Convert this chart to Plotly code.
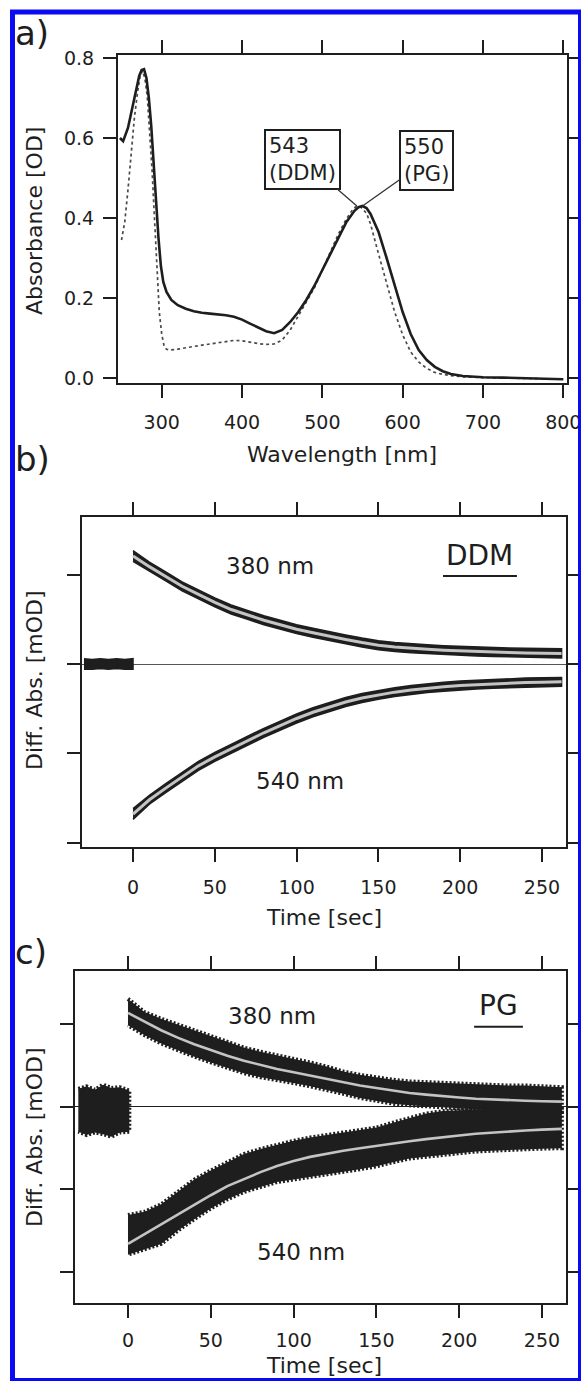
import plotly.graph_objects as go

W, H = 581, 1381
FONT = "DejaVu Sans"
INK = "#1e1e1e"
FIT_GRAY = "#c4c4c4"
FRAME_BLUE = "#0b0bf2"

# ---------------- a) absorption spectra ----------------
wl_pg = [248, 252, 258, 264, 268, 272, 275, 278, 281, 284,
         287, 290, 293, 296, 299, 302, 306, 312, 320, 330,
         340, 350, 360, 370, 380, 390, 400, 410, 420, 430,
         440, 450, 460, 470, 480, 490, 500, 510, 520, 530,
         540, 545, 550, 555, 560, 570, 580, 590, 600, 610,
         620, 630, 640, 650, 660, 675, 700, 725, 750, 775, 800]
abs_pg = [0.600, 0.592, 0.625, 0.680, 0.720, 0.755, 0.770, 0.772, 0.750, 0.700,
          0.630, 0.530, 0.430, 0.350, 0.280, 0.240, 0.215, 0.195, 0.182, 0.173,
          0.167, 0.163, 0.161, 0.159, 0.157, 0.153, 0.146, 0.136, 0.126, 0.117,
          0.112, 0.120, 0.140, 0.165, 0.195, 0.230, 0.270, 0.310, 0.350, 0.390,
          0.418, 0.427, 0.430, 0.425, 0.410, 0.365, 0.300, 0.232, 0.165, 0.110,
          0.070, 0.045, 0.028, 0.017, 0.010, 0.005, 0.002, 0.001, 0.000, -0.002, -0.003]

wl_ddm = [250, 254, 258, 262, 266, 270, 273, 276, 279, 282,
          285, 288, 291, 294, 297, 300, 303, 306, 310, 320,
          330, 340, 350, 360, 370, 380, 390, 400, 410, 420,
          430, 440, 450, 460, 470, 480, 490, 500, 510, 520,
          530, 538, 543, 548, 555, 560, 570, 580, 590, 600,
          610, 620, 630, 640, 650, 660, 675, 700, 725, 750, 775, 800]
abs_ddm = [0.345, 0.390, 0.470, 0.565, 0.650, 0.715, 0.753, 0.768, 0.750, 0.705,
           0.620, 0.520, 0.400, 0.280, 0.165, 0.110, 0.080, 0.072, 0.070, 0.072,
           0.076, 0.079, 0.082, 0.085, 0.088, 0.091, 0.094, 0.093, 0.089, 0.086,
           0.084, 0.085, 0.095, 0.120, 0.155, 0.190, 0.225, 0.270, 0.315, 0.360,
           0.398, 0.422, 0.430, 0.427, 0.412, 0.385, 0.310, 0.237, 0.165, 0.108,
           0.065, 0.040, 0.024, 0.014, 0.009, 0.006, 0.003, 0.001, 0.000, -0.001, -0.002, -0.003]

peak_ddm, peak_ddm_abs = 543, 0.430
peak_pg, peak_pg_abs = 550, 0.430
wl_ticks = [300, 400, 500, 600, 700, 800]
abs_ticks = [0.0, 0.2, 0.4, 0.6, 0.8]

# ---------------- shared time grid for the kinetics ----------------
t_grid = [0, 10, 20, 30, 40, 50, 60, 70, 80, 90, 100, 110, 120, 130,
          140, 150, 160, 170, 180, 190, 200, 210, 220, 230, 240, 250, 262]
time_ticks = [0, 50, 100, 150, 200, 250]
diff_ticks = [-2, -1, 0, 1]

# ---------------- b) DDM kinetics ----------------
b380_fit = [1.21, 1.09, 0.98, 0.87, 0.78, 0.69, 0.61, 0.55, 0.49, 0.44, 0.39, 0.35, 0.31, 0.275,
            0.24, 0.21, 0.19, 0.175, 0.165, 0.155, 0.147, 0.14, 0.134, 0.128, 0.124, 0.121, 0.118]
b380_hi = [1.27, 1.14, 1.03, 0.92, 0.83, 0.74, 0.66, 0.60, 0.54, 0.49, 0.44, 0.40, 0.36, 0.325,
           0.29, 0.26, 0.24, 0.225, 0.215, 0.205, 0.197, 0.19, 0.185, 0.18, 0.176, 0.173, 0.17]
b380_lo = [1.15, 1.04, 0.93, 0.82, 0.73, 0.64, 0.56, 0.50, 0.44, 0.39, 0.34, 0.30, 0.26, 0.225,
           0.19, 0.16, 0.14, 0.125, 0.115, 0.105, 0.097, 0.09, 0.084, 0.078, 0.074, 0.071, 0.068]

b540_fit = [-1.68, -1.52, -1.39, -1.26, -1.14, -1.04, -0.95, -0.86, -0.77, -0.69, -0.61, -0.54, -0.48, -0.425,
            -0.38, -0.345, -0.315, -0.29, -0.27, -0.255, -0.24, -0.23, -0.222, -0.214, -0.208, -0.204, -0.20]
b540_hi = [-1.62, -1.47, -1.34, -1.21, -1.09, -0.99, -0.90, -0.81, -0.72, -0.64, -0.56, -0.49, -0.43, -0.375,
           -0.33, -0.295, -0.265, -0.24, -0.22, -0.205, -0.19, -0.18, -0.172, -0.164, -0.158, -0.154, -0.15]
b540_lo = [-1.74, -1.57, -1.44, -1.31, -1.19, -1.09, -1.00, -0.91, -0.82, -0.74, -0.66, -0.59, -0.53, -0.475,
           -0.43, -0.395, -0.365, -0.34, -0.32, -0.305, -0.29, -0.28, -0.272, -0.264, -0.258, -0.254, -0.25]

pre_b_t = [-30, -25, -20, -15, -10, -5, 0]
pre_b_hi = [0.06, 0.05, 0.06, 0.05, 0.06, 0.05, 0.06]
pre_b_lo = [-0.06, -0.06, -0.05, -0.06, -0.05, -0.06, -0.06]

# ---------------- c) PG kinetics ----------------
c380_fit = [1.14, 1.03, 0.93, 0.84, 0.76, 0.69, 0.62, 0.56, 0.51, 0.46, 0.42, 0.38, 0.34, 0.30,
            0.26, 0.23, 0.20, 0.17, 0.15, 0.13, 0.115, 0.10, 0.09, 0.08, 0.075, 0.07, 0.065]
c380_hi = [1.31, 1.15, 1.07, 1.00, 0.93, 0.86, 0.79, 0.72, 0.67, 0.63, 0.59, 0.54, 0.49, 0.43,
           0.39, 0.355, 0.33, 0.31, 0.30, 0.29, 0.28, 0.27, 0.27, 0.26, 0.26, 0.25, 0.24]
c380_lo = [0.99, 0.87, 0.77, 0.69, 0.61, 0.54, 0.47, 0.41, 0.36, 0.32, 0.29, 0.25, 0.21, 0.16,
           0.11, 0.07, 0.04, 0.02, 0.01, 0.0, -0.02, -0.03, -0.04, -0.04, -0.05, -0.05, -0.06]

c540_fit = [-1.66, -1.54, -1.42, -1.30, -1.18, -1.07, -0.96, -0.87, -0.79, -0.715, -0.655, -0.605, -0.565, -0.53,
            -0.50, -0.47, -0.44, -0.415, -0.39, -0.365, -0.345, -0.325, -0.31, -0.295, -0.285, -0.275, -0.265]
c540_hi = [-1.31, -1.27, -1.18, -1.03, -0.88, -0.77, -0.67, -0.57, -0.51, -0.455, -0.41, -0.37, -0.34, -0.31,
           -0.28, -0.25, -0.19, -0.13, -0.08, -0.05, -0.04, -0.03, -0.02, -0.01, 0.0, 0.0, 0.0]
c540_lo = [-1.79, -1.73, -1.66, -1.50, -1.36, -1.23, -1.12, -1.03, -0.97, -0.91, -0.87, -0.84, -0.81, -0.785,
           -0.755, -0.72, -0.67, -0.625, -0.60, -0.58, -0.56, -0.54, -0.53, -0.52, -0.51, -0.505, -0.50]

pre_c_t = [-30, -25, -20, -15, -10, -5, 0.8]
pre_c_hi = [0.22, 0.25, 0.21, 0.27, 0.23, 0.24, 0.20]
pre_c_lo = [-0.30, -0.34, -0.31, -0.33, -0.36, -0.31, -0.30]


def px(x):
    """Horizontal pixel -> paper fraction (margins are zero)."""
    return x / W


def py(y):
    """Vertical pixel (from top) -> paper fraction."""
    return 1 - y / H


def band(t, hi, lo, xa, ya, edge_width=1.5, edge_dash="solid"):
    """Noisy measured trace drawn as a filled envelope."""
    return go.Scatter(x=list(t) + list(t)[::-1], y=list(hi) + list(lo)[::-1],
                      fill="toself", fillcolor=INK, mode="lines",
                      line=dict(color=INK, width=edge_width, dash=edge_dash),
                      xaxis=xa, yaxis=ya, hoverinfo="skip", showlegend=False)


def fit_line(t, v, xa, ya, width):
    return go.Scatter(x=t, y=v, mode="lines", line=dict(color=FIT_GRAY, width=width),
                      xaxis=xa, yaxis=ya, hoverinfo="skip", showlegend=False)


fig = go.Figure()

# a) spectra
fig.add_trace(go.Scatter(x=wl_ddm, y=abs_ddm, mode="lines", name="DDM",
                         line=dict(color="#4a4a4a", width=1.7, dash="dot"),
                         xaxis="x", yaxis="y", showlegend=False))
fig.add_trace(go.Scatter(x=wl_pg, y=abs_pg, mode="lines", name="PG",
                         line=dict(color=INK, width=2.6),
                         xaxis="x", yaxis="y", showlegend=False))

# b) DDM traces
fig.add_trace(band(pre_b_t, pre_b_hi, pre_b_lo, "x2", "y2"))
fig.add_trace(band(t_grid, b380_hi, b380_lo, "x2", "y2"))
fig.add_trace(band(t_grid, b540_hi, b540_lo, "x2", "y2"))
fig.add_trace(fit_line(t_grid, b380_fit, "x2", "y2", 3))
fig.add_trace(fit_line(t_grid, b540_fit, "x2", "y2", 3))

# c) PG traces: the ragged edge stands in for the shot-to-shot noise
rough = dict(edge_width=4, edge_dash="2px,2px")
fig.add_trace(band(pre_c_t, pre_c_hi, pre_c_lo, "x3", "y3", **rough))
fig.add_trace(band(t_grid, c380_hi, c380_lo, "x3", "y3", **rough))
fig.add_trace(band(t_grid, c540_hi, c540_lo, "x3", "y3", **rough))
fig.add_trace(fit_line(t_grid, c380_fit, "x3", "y3", 2.6))
fig.add_trace(fit_line(t_grid, c540_fit, "x3", "y3", 2.6))

tick_font = dict(family=FONT, size=19, color=INK)
axis_common = dict(ticks="outside", ticklen=13, tickwidth=2, tickcolor=INK,
                   showline=True, linewidth=2, linecolor=INK, mirror="ticks",
                   showgrid=False, tickfont=tick_font, automargin=False,
                   ticklabeloverflow="allow")

fig.update_layout(
    width=W, height=H, autosize=False,
    margin=dict(l=0, r=0, t=0, b=0, pad=0, autoexpand=False),
    paper_bgcolor="white", plot_bgcolor="white",
    showlegend=False,
    xaxis=dict(domain=[px(118), px(567)], anchor="y", range=[245.6, 804.6],
               tickvals=wl_ticks, zeroline=False, ticklabelstandoff=8, **axis_common),
    yaxis=dict(domain=[py(383), py(55)], anchor="x", range=[-0.0125, 0.8075],
               tickvals=abs_ticks, tickformat=".1f", zeroline=False,
               ticklabelstandoff=5, **axis_common),
    xaxis2=dict(domain=[px(82), px(566)], anchor="y2", range=[-31.2, 264.7],
                tickvals=time_ticks, zeroline=False, ticklabelstandoff=9, **axis_common),
    yaxis2=dict(domain=[py(847), py(517)], anchor="x2", range=[-2.049, 1.646],
                tickvals=diff_ticks, showticklabels=False,
                zeroline=True, zerolinecolor="#555555", zerolinewidth=1, **axis_common),
    xaxis3=dict(domain=[px(75), px(566)], anchor="y3", range=[-32.0, 264.5],
                tickvals=time_ticks, zeroline=False, ticklabelstandoff=6, **axis_common),
    yaxis3=dict(domain=[py(1303), py(971)], anchor="x3", range=[-2.376, 1.648],
                tickvals=diff_ticks, showticklabels=False,
                zeroline=True, zerolinecolor=INK, zerolinewidth=1, **axis_common),
)

title_font = dict(family=FONT, size=22, color=INK)
label_font = dict(family=FONT, size=34, color=INK)
inplot_font = dict(family=FONT, size=23, color=INK)
solvent_font = dict(family=FONT, size=28, color=INK)
peak_font = dict(family=FONT, size=21, color=INK)

annotations = [
    # panel letters
    dict(text="a)", x=px(13), y=py(33), xanchor="left", font=label_font),
    dict(text="b)", x=px(13), y=py(459), xanchor="left", font=label_font),
    dict(text="c)", x=px(13), y=py(952), xanchor="left", font=label_font),
    # axis titles
    dict(text="Absorbance [OD]", x=px(34), y=py(221), textangle=-90, xanchor="center", font=title_font),
    dict(text="Wavelength [nm]", x=px(342), y=py(455), xanchor="center", font=title_font),
    dict(text="Diff. Abs. [mOD]", x=px(34), y=py(680), textangle=-90, xanchor="center", font=title_font),
    dict(text="Time [sec]", x=px(324), y=py(917), xanchor="center", font=title_font),
    dict(text="Diff. Abs. [mOD]", x=px(34), y=py(1137), textangle=-90, xanchor="center", font=title_font),
    dict(text="Time [sec]", x=px(324), y=py(1365), xanchor="center", font=title_font),
]
for a in annotations:
    a.update(xref="paper", yref="paper", showarrow=False, yanchor="middle")

# peak call-outs in panel a
annotations += [
    dict(text=f"{peak_ddm}<br>(DDM)", x=peak_ddm, y=peak_ddm_abs, xref="x", yref="y",
         ax=475.7, ay=0.546, axref="x", ayref="y", showarrow=True, arrowhead=0,
         arrowwidth=1.3, arrowcolor="#333333", bordercolor=INK, borderwidth=2,
         borderpad=3, bgcolor="white", align="left", font=peak_font),
    dict(text=f"{peak_pg}<br>(PG)", x=peak_pg, y=peak_pg_abs, xref="x", yref="y",
         ax=630.0, ay=0.544, axref="x", ayref="y", showarrow=True, arrowhead=0,
         arrowwidth=1.3, arrowcolor="#333333", bordercolor=INK, borderwidth=2,
         borderpad=3, bgcolor="white", align="left", font=peak_font),
]

# wavelength labels and detergent names in b and c
annotations += [
    dict(text="380 nm", x=84, y=1.10, xref="x2", yref="y2", showarrow=False, font=inplot_font),
    dict(text="540 nm", x=102, y=-1.31, xref="x2", yref="y2", showarrow=False, font=inplot_font),
    dict(text="DDM", x=212, y=1.215, xref="x2", yref="y2", showarrow=False, font=solvent_font),
    dict(text="380 nm", x=87, y=1.10, xref="x3", yref="y3", showarrow=False, font=inplot_font),
    dict(text="540 nm", x=104.5, y=-1.76, xref="x3", yref="y3", showarrow=False, font=inplot_font),
    dict(text="PG", x=223.7, y=1.224, xref="x3", yref="y3", showarrow=False, font=solvent_font),
]
fig.update_layout(annotations=annotations)

shapes = [
    # underlines beneath the detergent names
    dict(type="line", xref="x2", yref="y2", x0=189.5, x1=234.7, y0=0.985, y1=0.985,
         line=dict(color=INK, width=2)),
    dict(type="line", xref="x3", yref="y3", x0=209.0, x1=238.5, y0=0.973, y1=0.973,
         line=dict(color=INK, width=2)),
    # blue outer frame
    dict(type="rect", xref="paper", yref="paper", x0=px(12.5), x1=px(580.5),
         y0=py(1380.5), y1=py(12), line=dict(color=FRAME_BLUE, width=5),
         fillcolor="rgba(0,0,0,0)", layer="above"),
]
fig.update_layout(shapes=shapes)

fig.write_html("out.html")
